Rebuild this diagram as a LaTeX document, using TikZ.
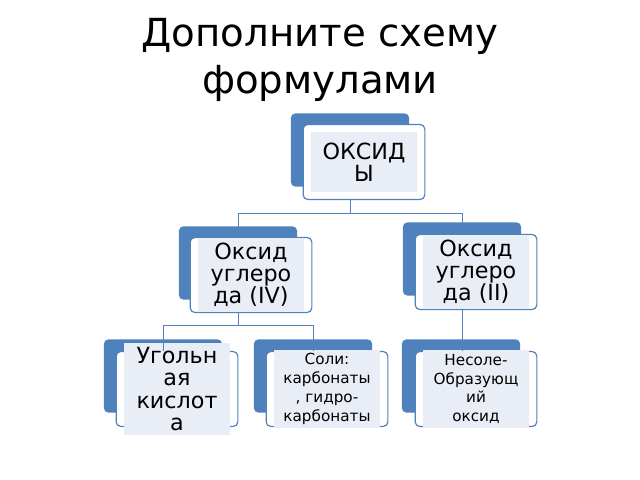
\documentclass[tikz,border=0pt]{standalone}
\usepackage{fontspec}
\setmainfont{DejaVu Sans}
\usetikzlibrary{positioning}
\definecolor{blueback}{HTML}{4F81BD}
\definecolor{paleblue}{HTML}{E9EEF6}
\begin{document}
\begin{tikzpicture}[x=0.03cm,y=-0.03cm,
    back/.style={rectangle, rounded corners=4pt, fill=blueback, minimum width=3.55cm, minimum height=2.2cm},
    front/.style={rectangle, rounded corners=4pt, draw=blueback, line width=1pt, fill=white, minimum width=3.65cm, minimum height=2.25cm},
    inner/.style={rectangle, fill=paleblue, minimum width=3.2cm, minimum height=1.8cm, align=center, font=\fontsize{19}{19}\selectfont},
    small/.style={font=\fontsize{13}{16}\selectfont},
    link/.style={draw=blueback, line width=0.8pt}]
\useasboundingbox (0,0) rectangle (640,480);
\node[align=center, font=\fontsize{33}{40}\selectfont] (title) at (320,60) {Дополните схему\\формулами};
% back boxes
\node[back] (bOx)  at (350,150) {};
\node[back] (bIV)  at (238,263) {};
\node[back] (bII)  at (462,259) {};
\node[back] (bAc)  at (163,376) {};
\node[back] (bSa)  at (313,376) {};
\node[back] (bNs)  at (461,376) {};
% front boxes
\node[front] (ox)  at (364,162) {};
\node[front] (iv)  at (251,275) {};
\node[front] (ii)  at (476,272) {};
\node[front] (ac)  at (177,389) {};
\node[front] (sa)  at (327,389) {};
\node[front] (ns)  at (476,389) {};
% texts
\node[inner] at (ox) {ОКСИД\\Ы};
\node[inner] at (iv) {Оксид\\углеро\\да (IV)};
\node[inner] at (ii) {Оксид\\углеро\\да (II)};
\node[inner] at (ac) {Угольн\\ая\\кислот\\а};
\node[inner, small] at (sa) {Соли:\\карбонаты\\, гидро-\\карбонаты};
\node[inner, small] at (ns) {Несоле-\\Образующ\\ий\\оксид};
% connectors
\coordinate (j1) at (350,213);
\coordinate (j2) at (238,325);
\draw[link] (ox.south -| j1) -- (j1) -| (iv.north -| bIV);
\draw[link] (j1) -| (ii.north -| bII);
\draw[link] (iv.south -| j2) -- (j2) -| (ac.north -| bAc);
\draw[link] (j2) -| (sa.north -| bSa);
\draw[link] (ii.south -| bII) -- (ns.north -| bII);
\end{tikzpicture}
\end{document}
